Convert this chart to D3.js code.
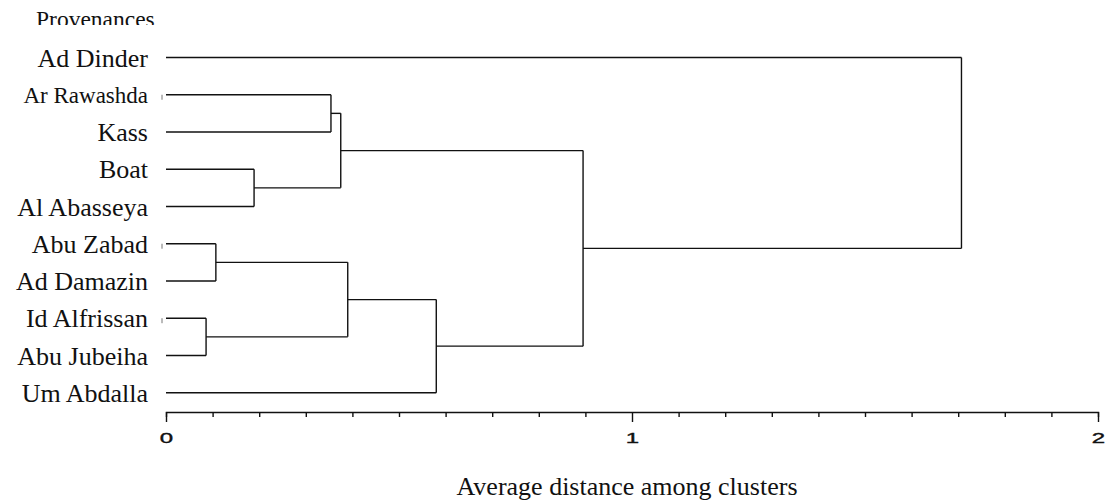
<!DOCTYPE html>
<html>
<head>
<meta charset="utf-8">
<script src="https://cdn.jsdelivr.net/npm/d3@7"></script>
<style>
  body { margin: 0; background: #fff; }
  .leaf-label { font-family: "Liberation Serif", "Times New Roman", serif; font-size: 26px; fill: #111; }
  .tick text { font-family: "Liberation Sans", Arial, sans-serif; font-size: 15px; fill: #111; }
</style>
</head>
<body>
<div id="chart"></div>
<script>
// leaves, top to bottom
var leaves = ["Ad Dinder", "Ar Rawashda", "Kass", "Boat", "Al Abasseya",
              "Abu Zabad", "Ad Damazin", "Id Alfrissan", "Abu Jubeiha", "Um Abdalla"];

// merges: [left, right, height], clusters are named c1..c9 in order
var merges = [
    ["Ar Rawashda", "Kass", 0.354],   // c1
    ["Boat", "Al Abasseya", 0.189],   // c2
    ["c1", "c2", 0.375],              // c3
    ["Abu Zabad", "Ad Damazin", 0.107], // c4
    ["Id Alfrissan", "Abu Jubeiha", 0.086], // c5
    ["c4", "c5", 0.390],              // c6
    ["c6", "Um Abdalla", 0.580],      // c7
    ["c3", "c7", 0.895],              // c8
    ["Ad Dinder", "c8", 1.707]        // c9
];

var tickValues = d3.range(0, 21).map(function(i) { return i / 10; });
var tickLabels = ["0", "1", "2"];

// little stubs left of some leaf lines
var stubLeaves = ["Ar Rawashda", "Abu Zabad", "Id Alfrissan"];

var width = 1108, height = 504;

var svg = d3.select("#chart").append("svg")
    .attr("width", width)
    .attr("height", height);

var x = d3.scaleLinear().domain([0, 2]).range([166, 1098]);
var y = d3.scalePoint().domain(leaves).range([57.5, 392.7]);

// build the tree
var nodes = {};
leaves.forEach(function(name) {
    nodes[name] = {name: name, h: 0, y: y(name)};
});
merges.forEach(function(m, i) {
    var a = nodes[m[0]], b = nodes[m[1]];
    nodes["c" + (i + 1)] = {name: "c" + (i + 1), h: m[2], children: [a, b], y: (a.y + b.y) / 2};
});
var root = d3.hierarchy(nodes["c" + merges.length]);

var g = svg.append("g")
    .attr("fill", "none")
    .attr("stroke", "#111")
    .attr("stroke-width", 1.4);

// elbows
root.descendants().forEach(function(d) {
    if (!d.children) return;
    var px = x(d.data.h);
    var ys = d.children.map(function(c) { return c.data.y; });
    g.append("line")
        .attr("x1", px).attr("x2", px)
        .attr("y1", d3.min(ys)).attr("y2", d3.max(ys));
    d.children.forEach(function(c) {
        g.append("line")
            .attr("x1", x(c.data.h)).attr("x2", px)
            .attr("y1", c.data.y).attr("y2", c.data.y);
    });
});

stubLeaves.forEach(function(name) {
    g.append("line")
        .attr("stroke", "#777")
        .attr("stroke-width", 1)
        .attr("x1", 162).attr("x2", 162)
        .attr("y1", y(name)).attr("y2", y(name) + 5);
});

// leaf labels
svg.selectAll(".leaf-label")
    .data(leaves)
    .enter().append("text")
    .attr("class", "leaf-label")
    .attr("x", 148)
    .attr("y", function(d) { return y(d); })
    .attr("dy", "0.35em")
    .attr("text-anchor", "end")
    .style("font-size", function(d) { return d == "Ar Rawashda" ? "23px" : null; })
    .text(function(d) { return d; });

// axis
var axis = d3.axisBottom(x)
    .tickValues(tickValues)
    .tickSizeOuter(0)
    .tickSize(5)
    .tickFormat(function(d) {
        var i = Math.round(d * 10);
        return i % 10 == 0 ? tickLabels[i / 10] : "";
    });

var ax = svg.append("g")
    .attr("transform", "translate(0,412)")
    .call(axis);
ax.select(".domain").attr("stroke", "#111").attr("stroke-width", 1.4);
ax.selectAll(".tick line")
    .attr("stroke", "#111")
    .attr("stroke-width", 1.4)
    .attr("y2", function(d) { return Math.round(d * 10) % 10 == 0 ? 10 : 5; });
// the labels are drawn wide in the original
ax.selectAll(".tick text")
    .attr("y", 20)
    .attr("transform", "scale(1.6,1)")
    .style("stroke", "#111")
    .style("stroke-width", 0.4);

// axis title
svg.append("text")
    .attr("x", 627)
    .attr("y", 495)
    .attr("text-anchor", "middle")
    .style("font-family", "'Liberation Serif', 'Times New Roman', serif")
    .style("font-size", "26px")
    .style("fill", "#111")
    .text("Average distance among clusters");

// clipped heading
svg.append("clipPath").attr("id", "headclip")
    .append("rect").attr("x", 0).attr("y", 0).attr("width", 300).attr("height", 25);
svg.append("text")
    .attr("clip-path", "url(#headclip)")
    .attr("x", 36)
    .attr("y", 27)
    .style("font-family", "'Liberation Serif', 'Times New Roman', serif")
    .style("font-size", "23.5px")
    .style("fill", "#111")
    .text("Provenances");
</script>
</body>
</html>
